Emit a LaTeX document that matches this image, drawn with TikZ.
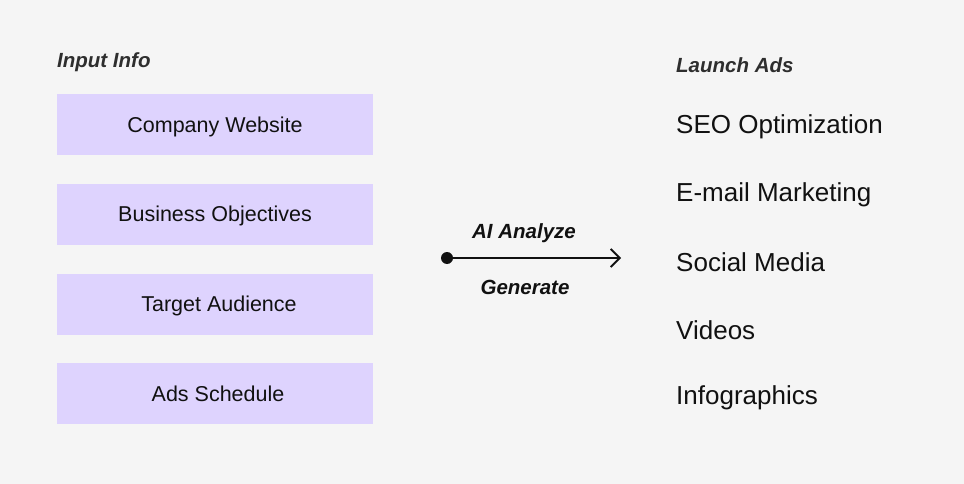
\documentclass[tikz,border=0pt]{standalone}
\usepackage{fontspec}
\setmainfont{Liberation Sans}
\usetikzlibrary{arrows.meta}
\definecolor{bgc}{HTML}{F5F5F5}
\definecolor{boxc}{HTML}{DED3FE}
\definecolor{txt}{HTML}{111111}
\definecolor{ttl}{HTML}{2E2E2E}
\begin{document}
\begin{tikzpicture}[x=1pt,y=-1pt,
  inbox/.style={fill=boxc, minimum width=316pt, minimum height=61pt, inner sep=0pt,
    font=\fontsize{21.5}{26}\selectfont, text=txt, text depth=0pt, text height=15.5pt},
  outitem/.style={anchor=west, inner sep=0pt, font=\fontsize{26}{31}\selectfont, text=txt},
  ttlstyle/.style={anchor=west, inner sep=0pt, font=\fontsize{20.5}{24}\selectfont\bfseries\itshape, text=ttl},
  lbl/.style={inner sep=0pt, font=\fontsize{20.5}{24}\selectfont\bfseries\itshape, text=txt}]
\fill[bgc] (0,0) rectangle (964,484);
\useasboundingbox (0,0) rectangle (964,484);

\node[ttlstyle] (tin) at (57,62) {Input Info};
\node[ttlstyle] (tout) at (676,65) {Launch Ads};

\node[inbox] (b1) at (215,124.5) {Company Website};
\node[inbox] (b2) at (215,214) {Business Objectives};
\node[inbox] (b3) at (215,304) {\hspace{8pt}Target Audience};
\node[inbox] (b4) at (215,393.5) {\hspace{6pt}Ads Schedule};

\node[outitem] (o1) at (676,127) {SEO Optimization};
\node[outitem] (o2) at (676,194.5) {E-mail Marketing};
\node[outitem] (o3) at (676,262) {Social Media};
\node[outitem] (o4) at (676,330) {Videos};
\node[outitem] (o5) at (676,398) {Infographics};

\coordinate (s) at (447,258);
\coordinate (e) at (621,258);
\fill[txt] (s) circle (6);
\draw[txt, line width=1.8pt, -{Straight Barb[length=9pt,width=18pt,line width=1.8pt]}] (s) -- (e);
\node[lbl] (ai) at (524,233) {AI Analyze};
\node[lbl] (gen) at (525,287) {Generate};
\end{tikzpicture}
\end{document}
